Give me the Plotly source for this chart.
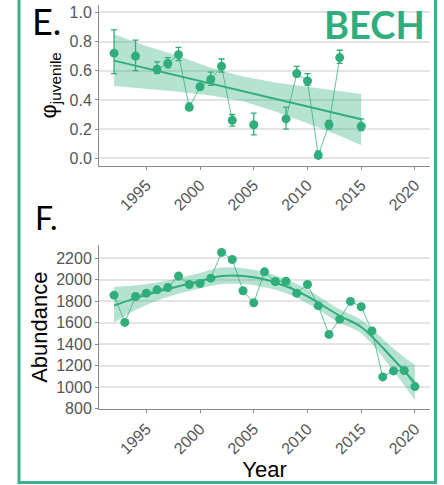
import plotly.graph_objects as go

# ---- Juvenile survival (panel E) ----
phi_years = [1992, 1994, 1996, 1997, 1998, 1999, 2000, 2001, 2002, 2003,
             2005, 2008, 2009, 2010, 2011, 2012, 2013, 2015]
phi_mean = [0.72, 0.70, 0.61, 0.65, 0.71, 0.35, 0.49, 0.54, 0.63, 0.26,
            0.23, 0.27, 0.58, 0.53, 0.02, 0.23, 0.69, 0.22]
phi_hi = [0.88, 0.81, 0.66, 0.69, 0.76, 0.38, 0.50, 0.59, 0.68, 0.30,
          0.31, 0.35, 0.63, 0.58, 0.05, 0.26, 0.74, 0.27]
phi_lo = [0.58, 0.60, 0.58, 0.62, 0.67, 0.33, 0.47, 0.50, 0.59, 0.22,
          0.16, 0.20, 0.56, 0.50, 0.00, 0.20, 0.65, 0.19]

# linear trend with its credible band
phi_fit_years = [1992, 1995, 1998, 2001, 2004, 2007, 2010, 2013, 2015]
phi_fit = [0.669, 0.617, 0.564, 0.512, 0.459, 0.407, 0.354, 0.302, 0.267]
phi_fit_hi = [0.85, 0.77, 0.70, 0.62, 0.56, 0.52, 0.49, 0.46, 0.44]
phi_fit_lo = [0.495, 0.475, 0.455, 0.43, 0.39, 0.32, 0.24, 0.155, 0.09]

# ---- Abundance (panel F) ----
ab_years = list(range(1992, 2021))
ab_values = [1857, 1603, 1845, 1876, 1907, 1929, 2035, 1957, 1966, 2016,
             2256, 2190, 1898, 1786, 2075, 1985, 1988, 1876, 1957, 1758,
             1491, 1633, 1799, 1749, 1524, 1095, 1151, 1155, 1005]

ab_fit_years = [1992, 1994, 1997, 2000, 2002, 2005, 2008, 2010, 2013, 2015, 2018, 2020]
ab_fit = [1760, 1830, 1915, 1990, 2035, 2025, 1940, 1845, 1665, 1560, 1260, 1040]
ab_fit_hi = [1935, 1950, 1995, 2065, 2115, 2095, 2005, 1910, 1725, 1625, 1360, 1205]
ab_fit_lo = [1600, 1720, 1840, 1920, 1960, 1950, 1875, 1780, 1600, 1500, 1150, 877]

x_ticks = [1995, 2000, 2005, 2010, 2015, 2020]
phi_ticks = [0.0, 0.2, 0.4, 0.6, 0.8, 1.0]
ab_ticks = [800, 1000, 1200, 1400, 1600, 1800, 2000, 2200]

GREEN = "#2fae7c"
BAND = "rgba(47,174,124,0.35)"
THIN = "rgba(47,174,124,0.75)"
BORDER = "#3ab486"
FONT = "Liberation Sans"

fig = go.Figure()

# Panel E: band, trend, yearly estimates
fig.add_trace(go.Scatter(x=phi_fit_years + phi_fit_years[::-1],
                         y=phi_fit_hi + phi_fit_lo[::-1],
                         fill="toself", fillcolor=BAND, line=dict(width=0),
                         mode="lines", hoverinfo="skip", xaxis="x", yaxis="y"))
fig.add_trace(go.Scatter(x=phi_fit_years, y=phi_fit, mode="lines",
                         line=dict(color=GREEN, width=2), xaxis="x", yaxis="y"))

# thin line joining consecutive years only
yr_full = list(range(min(phi_years), max(phi_years) + 1))
lookup = dict(zip(phi_years, phi_mean))
fig.add_trace(go.Scatter(x=yr_full, y=[lookup.get(y) for y in yr_full],
                         mode="lines", connectgaps=False,
                         line=dict(color=THIN, width=1), xaxis="x", yaxis="y"))
fig.add_trace(go.Scatter(
    x=phi_years, y=phi_mean, mode="markers",
    marker=dict(color=GREEN, size=9),
    error_y=dict(type="data", symmetric=False,
                 array=[h - m for h, m in zip(phi_hi, phi_mean)],
                 arrayminus=[m - l for m, l in zip(phi_mean, phi_lo)],
                 color=GREEN, thickness=1.3, width=3),
    xaxis="x", yaxis="y"))

# Panel F: band (lower edge, then upper edge filled down to it), smooth, yearly abundance
fig.add_trace(go.Scatter(x=ab_fit_years, y=ab_fit_lo, mode="lines",
                         line=dict(width=0, shape="spline"),
                         hoverinfo="skip", xaxis="x2", yaxis="y2"))
fig.add_trace(go.Scatter(x=ab_fit_years, y=ab_fit_hi, mode="lines",
                         fill="tonexty", fillcolor=BAND,
                         line=dict(width=0, shape="spline"),
                         hoverinfo="skip", xaxis="x2", yaxis="y2"))
fig.add_trace(go.Scatter(x=ab_fit_years, y=ab_fit, mode="lines",
                         line=dict(color=GREEN, width=2, shape="spline"),
                         xaxis="x2", yaxis="y2"))
fig.add_trace(go.Scatter(x=ab_years, y=ab_values, mode="lines+markers",
                         line=dict(color=THIN, width=1),
                         marker=dict(color=GREEN, size=9),
                         xaxis="x2", yaxis="y2"))

xdom = [99 / 444, 430 / 444]
axis_common = dict(showline=True, linecolor="#8a8a8a", linewidth=1,
                   ticks="outside", ticklen=3, tickcolor="#8a8a8a",
                   tickfont=dict(family=FONT, size=16, color="#555555"),
                   zeroline=False, automargin=False)

fig.update_layout(
    width=444, height=485,
    margin=dict(l=0, r=0, t=0, b=0),
    paper_bgcolor="white", plot_bgcolor="white",
    showlegend=False,
    xaxis=dict(domain=xdom, range=[1990.6, 2021.4], tickvals=x_ticks,
               tickangle=-45, showgrid=False, anchor="y", **axis_common),
    yaxis=dict(domain=[1 - 165.6 / 485, 1 - 5 / 485], range=[-0.05, 1.05],
               tickvals=phi_ticks, tickformat=".1f", showgrid=True,
               gridcolor="#e4e4e4", gridwidth=1.5, anchor="x",
               title=dict(text="φ<sub>juvenile</sub>",
                          font=dict(family=FONT, size=22, color="black"),
                          standoff=6),
               **axis_common),
    xaxis2=dict(domain=xdom, range=[1990.6, 2021.4], tickvals=x_ticks,
                tickangle=-45, showgrid=False, anchor="y2",
                title=dict(text="Year", font=dict(family=FONT, size=22, color="black"),
                           standoff=0),
                **axis_common),
    yaxis2=dict(domain=[1 - 409.3 / 485, 1 - 245 / 485], range=[793, 2325],
                tickvals=ab_ticks, showgrid=True, gridcolor="#e4e4e4",
                gridwidth=1.5, anchor="x2",
                title=dict(text="Abundance",
                           font=dict(family=FONT, size=22, color="black"),
                           standoff=2),
                **axis_common),
)

fig.add_annotation(text="E.", x=30 / 444, y=1 - 21 / 485, xref="paper", yref="paper",
                   xanchor="left", yanchor="middle", showarrow=False,
                   font=dict(family="Lato", size=36, color="black"))
fig.add_annotation(text="F.", x=33 / 444, y=1 - 218 / 485, xref="paper", yref="paper",
                   xanchor="left", yanchor="middle", showarrow=False,
                   font=dict(family="Lato", size=32, color="black"))
fig.add_annotation(text="<b>BECH</b>", x=374 / 444, y=1 - 23.5 / 485,
                   xref="paper", yref="paper", xanchor="center", yanchor="middle",
                   showarrow=False, font=dict(family="Lato", size=38, color=GREEN))

# green frame around the panel pair
fig.add_shape(type="rect", xref="paper", yref="paper",
              x0=19 / 444, x1=435.5 / 444, y0=1 - 482.5 / 485, y1=1.05,
              line=dict(color=BORDER, width=3), fillcolor="rgba(0,0,0,0)")

fig.write_html("out.html")
